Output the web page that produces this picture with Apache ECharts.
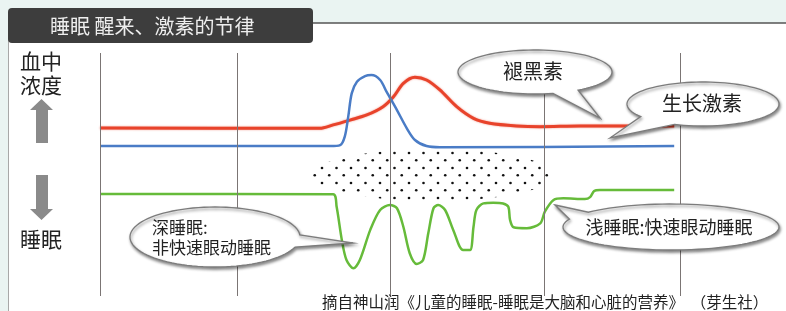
<!DOCTYPE html>
<html>
<head>
<meta charset="utf-8">
<script src="https://cdn.jsdelivr.net/npm/echarts/dist/echarts.min.js"></script>
<style>
  html, body { margin: 0; padding: 0; background: #eaf4f2; }
  #chart { width: 786px; height: 311px; }
</style>
</head>
<body>
<div id="chart"></div>
<script>
// time runs 0..100 across the plot, level 0..100 bottom to top
var gridTimes = [0, 23.6, 50, 76.6, 100];

// 褪黑素 (blue)
var melatonin = [
  [0, 61.7], [39.7, 61.7], [41.4, 62.1], [42.2, 65.6], [42.8, 73.8], [43.4, 83.4],
  [44.3, 88.2], [45.7, 90.5], [46.8, 90.9], [48.3, 88.9], [49.4, 84.1], [51.2, 76.5],
  [52.9, 69.0], [54.3, 64.2], [56.3, 61.7], [58.6, 61.2], [99, 61.7]
];

// 生长激素 (red)
var growthHormone = [
  [0, 69.1], [34.5, 69.0], [37.9, 69.0], [40.2, 70.4], [43.1, 72.4], [46.0, 74.5],
  [48.8, 77.9], [50.6, 82.0], [52.3, 87.5], [54.3, 90.0], [56.3, 88.9], [58.6, 84.8],
  [61.5, 77.9], [64.4, 73.1], [67.2, 71.1], [71.8, 70.0], [75.9, 69.7], [82.8, 70.0],
  [99, 70.0]
];

// sleep depth (green)
var sleepDepth = [
  [0, 42.0], [40.2, 41.9], [40.8, 36.7], [41.7, 23.0], [42.5, 14.8], [43.7, 11.4],
  [44.8, 14.8], [46.6, 27.2], [48.3, 35.4], [50.0, 37.4], [51.2, 36.1], [52.3, 28.5],
  [53.4, 17.6], [54.6, 13.2], [55.7, 14.8], [56.6, 25.8], [57.5, 36.1], [58.3, 37.4],
  [59.5, 35.4], [60.9, 27.2], [62.6, 18.9], [63.8, 18.9], [64.4, 28.5], [64.9, 35.4],
  [66.1, 38.1], [67.8, 38.4], [69.5, 38.1], [70.4, 36.7], [70.7, 31.3], [71.3, 28.3],
  [73.6, 27.9], [75.9, 29.9], [76.7, 34.7], [78.2, 39.5], [79.9, 40.2], [83.6, 39.9],
  [84.5, 40.7], [85.2, 43.2], [86.2, 43.6], [99, 43.6]
];

var FONT = '"Noto Sans CJK SC", "Noto Sans", sans-serif';

// dot texture for the stippled patch
var dotTile = document.createElement('canvas');
dotTile.width = 29;
dotTile.height = 15;
var dctx = dotTile.getContext('2d');
dctx.fillStyle = '#111';
[[3, 3], [17.5, 3], [10.25, 10.3], [24.75, 10.3]].forEach(function (p) {
  dctx.beginPath();
  dctx.arc(p[0], p[1], 1.3, 0, Math.PI * 2);
  dctx.fill();
});

// speech bubble: ellipse with a tail between angles a0..a1 pointing to tip
function bubble(cx, cy, rx, ry, a0, a1, tip) {
  var pts = [tip];
  var span = 360 - (a1 - a0);
  for (var i = 0; i <= 90; i++) {
    var t = (a1 + span * i / 90) * Math.PI / 180;
    pts.push([cx + rx * Math.cos(t), cy + ry * Math.sin(t)]);
  }
  return {
    type: 'polygon',
    z: 50,
    shape: { points: pts },
    style: {
      fill: '#fff', stroke: '#7c7c7c', lineWidth: 1.3,
      shadowBlur: 3, shadowOffsetX: 1, shadowOffsetY: 2, shadowColor: 'rgba(0,0,0,0.45)'
    }
  };
}

function label(text, x, y, size, align) {
  return {
    type: 'text', z: 60, x: x, y: y,
    style: {
      text: text, fill: '#222', font: size + 'px ' + FONT,
      align: align || 'center', verticalAlign: 'middle', lineHeight: size + 3
    }
  };
}

var myChart = echarts.init(document.getElementById('chart'));

var option = {
  backgroundColor: '#eaf4f2',
  animation: false,
  grid: { left: 100, right: 106, top: 53, bottom: 15 },
  xAxis: { type: 'value', min: 0, max: 100, show: false },
  yAxis: { type: 'value', min: 0, max: 100, show: false },
  graphic: [
    // white panel and frame
    { type: 'rect', z: -10, shape: { x: 8, y: 23, width: 778, height: 288 }, style: { fill: '#fff' } },
    { type: 'line', z: -9, shape: { x1: 8.5, y1: 23, x2: 8.5, y2: 311 }, style: { stroke: '#a8a8a8', lineWidth: 1 } },
    { type: 'line', z: -9, shape: { x1: 313, y1: 23, x2: 786, y2: 23 }, style: { stroke: '#555', lineWidth: 1.5 } },
    // title tab
    { type: 'rect', z: 40, shape: { x: 8, y: 8, width: 305, height: 35, r: 4 }, style: { fill: '#3d3d3d' } },
    { type: 'text', z: 41, x: 50, y: 26, style: { text: '睡眠 醒来、激素的节律', fill: '#eeeeee', font: '20px ' + FONT, verticalAlign: 'middle' } },
    // left labels and arrows
    label('血中\n浓度', 41, 73, 21),
    { type: 'polygon', z: 30, shape: { points: [[41.5, 99], [53, 110], [48, 110], [48, 143], [36, 143], [36, 110], [30, 110]] }, style: { fill: '#8a8a8a' } },
    { type: 'polygon', z: 30, shape: { points: [[36, 175], [48, 175], [48, 209], [53, 209], [41.5, 220], [30, 209], [36, 209]] }, style: { fill: '#8a8a8a' } },
    label('睡眠', 41, 239, 21),
    // stippled patch
    { type: 'ellipse', z: 1, shape: { cx: 433, cy: 175, rx: 121, ry: 26 }, style: { fill: { image: dotTile, repeat: 'repeat' } } },
    // callouts
    bubble(535, 72, 77, 22, 56, 76.5, [600, 118]),
    label('褪黑素', 533, 71, 20),
    bubble(703, 104, 76, 22, 112, 145, [610, 138]),
    label('生长激素', 702, 103, 20),
    bubble(215, 237, 85, 30, -4, 19.5, [353, 243]),
    label('深睡眠:\n非快速眼动睡眠', 152, 238, 17, 'left'),
    bubble(671, 227, 108, 23, -160, -140, [555, 205]),
    label('浅睡眠:快速眼动睡眠', 669, 227, 18),
    // source
    { type: 'text', z: 60, x: 322, y: 302, style: { text: '摘自神山润《儿童的睡眠-睡眠是大脑和心脏的营养》  （芽生社）', fill: '#222', font: '15.5px ' + FONT, align: 'left', verticalAlign: 'middle' } }
  ],
  series: [
    {
      name: 'grid',
      type: 'line',
      data: [],
      markLine: {
        silent: true,
        symbol: 'none',
        label: { show: false },
        lineStyle: { color: '#7b7574', width: 1, type: 'solid' },
        data: gridTimes.map(function (t) { return { xAxis: t }; })
      }
    },
    {
      name: '生长激素',
      type: 'line',
      data: growthHormone,
      smooth: 0.3,
      showSymbol: false,
      lineStyle: { color: '#e8432b', width: 3, shadowBlur: 2, shadowColor: 'rgba(232,67,43,0.6)' }
    },
    {
      name: '褪黑素',
      type: 'line',
      data: melatonin,
      smooth: 0.3,
      showSymbol: false,
      lineStyle: { color: '#4a7cc6', width: 2.5 }
    },
    {
      name: '睡眠',
      type: 'line',
      data: sleepDepth,
      smooth: 0.3,
      showSymbol: false,
      lineStyle: { color: '#66bb3a', width: 2.5 }
    }
  ]
};

myChart.setOption(option);
</script>
</body>
</html>
